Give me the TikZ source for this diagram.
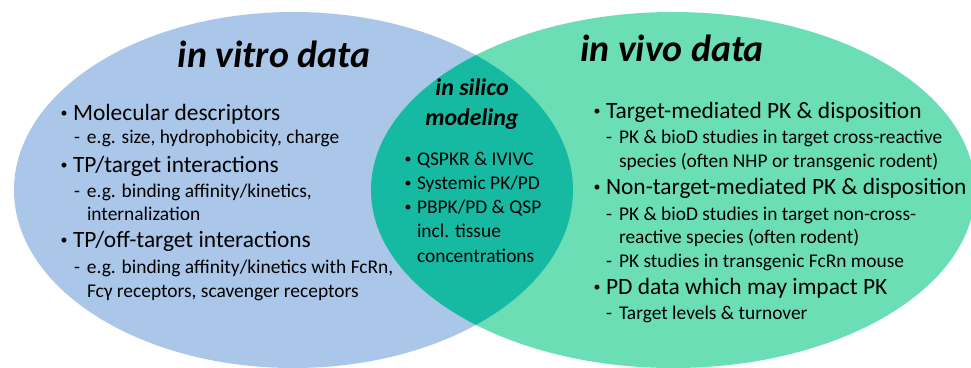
\documentclass[tikz,border=0pt]{standalone}
\usepackage{fontspec}
\setmainfont{Carlito}
\definecolor{vitroblue}{RGB}{170,199,233}
\definecolor{vivogreen}{RGB}{108,222,182}
\definecolor{silicoteal}{RGB}{22,186,163}
\newcommand\blt[1]{\makebox[14bp][l]{\hspace{1.5bp}\raisebox{0.1em}{\fontsize{14}{14}\selectfont•}}#1}
\newcommand\dsh[1]{\makebox[13bp][l]{-}#1}
\tikzset{
  line/.style={anchor=base west, inner sep=0pt, outer sep=0pt},
  mainitem/.style={line, font=\fontsize{23.5}{26}\selectfont},
  subitem/.style={line, font=\fontsize{19.5}{22}\selectfont},
  cenitem/.style={line, font=\fontsize{19.5}{22}\selectfont},
  bigtitle/.style={anchor=base, inner sep=0pt, font=\fontsize{38}{40}\selectfont\bfseries\itshape},
  midtitle/.style={anchor=base, inner sep=0pt, font=\fontsize{24}{26}\selectfont\bfseries\itshape},
}
\begin{document}
\begin{tikzpicture}[x=1bp,y=-1bp]
\useasboundingbox (0,0) rectangle (971,367);
% ellipses
\fill[vitroblue] (293.5,190) ellipse [x radius=279.5, y radius=178];
\fill[vivogreen] (673,190) ellipse [x radius=302, y radius=178];
\begin{scope}
  \clip (293.5,190) ellipse [x radius=279.5, y radius=178];
  \fill[silicoteal] (673,190) ellipse [x radius=302, y radius=178];
\end{scope}
% titles
\node[bigtitle] (tvitro) at (274,67) {in vitro data};
\node[bigtitle] (tvivo) at (672,61) {in vivo data};
\node[midtitle] (tsil1) at (472,95) {in silico};
\node[midtitle] (tsil2) at (472,125) {modeling};
% left column
\node[mainitem] (l1) at (59,120) {\blt{Molecular descriptors}};
\node[subitem] (l2) at (74,143) {\dsh{e.g. size, hydrophobicity, charge}};
\node[mainitem] (l3) at (59,172) {\blt{TP/target interactions}};
\node[subitem] (l4) at (74,197) {\dsh{e.g. binding affinity/kinetics,}};
\node[subitem] (l5) at (87,220) {internalization};
\node[mainitem] (l6) at (59,247) {\blt{TP/off-target interactions}};
\node[subitem] (l7) at (74,273) {\dsh{e.g. binding affinity/kinetics with FcRn,}};
\node[subitem] (l8) at (87,297) {Fcγ receptors, scavenger receptors};
% center column
\node[cenitem] (c1) at (403,165) {\blt{QSPKR \& IVIVC}};
\node[cenitem] (c2) at (403,189) {\blt{Systemic PK/PD}};
\node[cenitem] (c3) at (403,213) {\blt{PBPK/PD \& QSP}};
\node[cenitem] (c4) at (417,237) {incl. tissue};
\node[cenitem] (c5) at (417,262) {concentrations};
% right column
\node[mainitem] (r1) at (592,118) {\blt{Target-mediated PK \& disposition}};
\node[subitem] (r2) at (606,143) {\dsh{PK \& bioD studies in target cross-reactive}};
\node[subitem] (r3) at (619,167) {species (often NHP or transgenic rodent)};
\node[mainitem] (r4) at (592,194) {\blt{Non-target-mediated PK \& disposition}};
\node[subitem] (r5) at (606,220) {\dsh{PK \& bioD studies in target non-cross-}};
\node[subitem] (r6) at (619,243) {reactive species (often rodent)};
\node[subitem] (r7) at (606,267) {\dsh{PK studies in transgenic FcRn mouse}};
\node[mainitem] (r8) at (592,294) {\blt{PD data which may impact PK}};
\node[subitem] (r9) at (606,319) {\dsh{Target levels \& turnover}};
\end{tikzpicture}
\end{document}
